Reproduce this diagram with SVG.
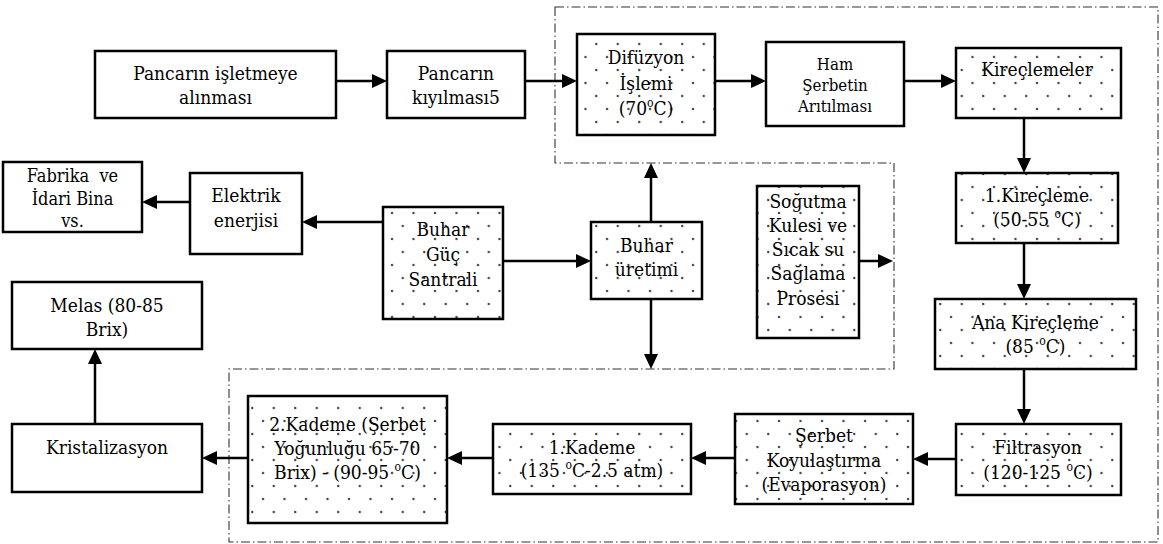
<svg xmlns="http://www.w3.org/2000/svg" width="1163" height="544" viewBox="0 0 1163 544">
  <style>
    .box { fill: #ffffff; stroke: #000000; stroke-width: 2.5; }
    .dot { fill: url(#dots); stroke: #000000; stroke-width: 2.5; }
    .lbl { font-family: "DejaVu Serif Condensed", "DejaVu Serif", serif; font-stretch: condensed; font-size: 19px; fill: #000000; text-anchor: middle; }
    .sm { font-size: 16.7px; }
    .fb { font-size: 18px; }
    .sup { font-size: 12px; }
    .edge { stroke: #000000; stroke-width: 2.5; fill: none; marker-end: url(#head); }
    .zone { fill: none; stroke: #333333; stroke-width: 1.1; stroke-dasharray: 9 3 1.5 3; }
  </style>
  <defs>
    <!-- stippled fill used by the process boxes -->
    <pattern id="dots" patternUnits="userSpaceOnUse" width="21.5" height="26">
      <rect width="21.5" height="26" fill="#ffffff"/>
      <circle cx="5" cy="5" r="1.2" fill="#444444"/>
      <circle cx="15.75" cy="18" r="1.2" fill="#444444"/>
    </pattern>
    <marker id="head" viewBox="0 0 15 14" refX="4" refY="7" markerWidth="15" markerHeight="14" markerUnits="userSpaceOnUse" orient="auto">
      <path d="M0,0 L15,7 L0,14 z" fill="#000000"/>
    </marker>
  </defs>

  <rect width="1163" height="544" fill="#ffffff"/>

  <!-- process zones (dash-dot outline) -->
  <g id="zones">
    <path class="zone" d="M555,7 H1158 V542 H229 V369 H894 V163 H555 Z"/>
  </g>

  <!-- connectors -->
  <g id="connectors">
    <line class="edge" x1="336" y1="81" x2="376" y2="81"/>
    <line class="edge" x1="525" y1="81" x2="566" y2="81"/>
    <line class="edge" x1="715" y1="81" x2="755" y2="81"/>
    <line class="edge" x1="904" y1="81" x2="945" y2="81"/>
    <line class="edge" x1="1024" y1="118" x2="1024" y2="162"/>
    <line class="edge" x1="1024" y1="243" x2="1024" y2="288"/>
    <line class="edge" x1="1024" y1="369" x2="1024" y2="413"/>
    <line class="edge" x1="956" y1="459" x2="924" y2="459"/>
    <line class="edge" x1="735" y1="458" x2="702" y2="458"/>
    <line class="edge" x1="493" y1="458" x2="458" y2="458"/>
    <line class="edge" x1="248" y1="458" x2="213" y2="458"/>
    <line class="edge" x1="95" y1="424" x2="95" y2="360"/>
    <line class="edge" x1="503" y1="261" x2="580" y2="261"/>
    <line class="edge" x1="651" y1="222" x2="651" y2="174"/>
    <line class="edge" x1="651" y1="299" x2="651" y2="358"/>
    <line class="edge" x1="859" y1="261" x2="882" y2="261"/>
    <line class="edge" x1="383" y1="222" x2="313" y2="222"/>
    <line class="edge" x1="190" y1="202" x2="153" y2="202"/>
  </g>

  <!-- top row -->
  <g id="n-isletme">
    <rect class="box" x="95" y="51" width="241" height="67"/>
    <text class="lbl" x="215.5" y="80">Pancarın işletmeye</text>
    <text class="lbl" x="215.5" y="104">alınması</text>
  </g>
  <g id="n-kiyilma">
    <rect class="box" x="387" y="51" width="138" height="67"/>
    <text class="lbl" x="456" y="80">Pancarın</text>
    <text class="lbl" x="456" y="104">kıyılması5</text>
  </g>
  <g id="n-difuzyon">
    <rect class="dot" x="577" y="34" width="138" height="101"/>
    <text class="lbl" x="646" y="64">Difüzyon</text>
    <text class="lbl" x="646" y="90">İşlemi</text>
    <text class="lbl" x="646" y="115">(70<tspan class="sup" dy="-8">o</tspan><tspan dy="8">C)</tspan></text>
  </g>
  <g id="n-ham">
    <rect class="box" x="766" y="42" width="138" height="84"/>
    <text class="lbl sm" x="835" y="70">Ham</text>
    <text class="lbl sm" x="835" y="91">Şerbetin</text>
    <text class="lbl sm" x="835" y="112">Arıtılması</text>
  </g>
  <g id="n-kireclemeler">
    <rect class="dot" x="956" y="48" width="165" height="70"/>
    <text class="lbl" x="1037" y="76">Kireçlemeler</text>
  </g>

  <!-- right column -->
  <g id="n-kirecleme1">
    <rect class="dot" x="956" y="173" width="162" height="70"/>
    <text class="lbl" x="1037" y="202">1.Kireçleme</text>
    <text class="lbl" x="1037" y="226">(50-55 <tspan class="sup" dy="-8">o</tspan><tspan dy="8">C)</tspan></text>
  </g>
  <g id="n-ana">
    <rect class="dot" x="935" y="299" width="201" height="70"/>
    <text class="lbl" x="1035.5" y="329">Ana Kireçleme</text>
    <text class="lbl" x="1035.5" y="353">(85 <tspan class="sup" dy="-8">o</tspan><tspan dy="8">C)</tspan></text>
  </g>
  <g id="n-filtrasyon">
    <rect class="dot" x="956" y="424" width="165" height="71"/>
    <text class="lbl" x="1038" y="454">Filtrasyon</text>
    <text class="lbl" x="1038" y="479">(120-125 <tspan class="sup" dy="-8">o</tspan><tspan dy="8">C)</tspan></text>
  </g>

  <!-- bottom row -->
  <g id="n-serbet">
    <rect class="dot" x="735" y="414" width="178" height="90"/>
    <text class="lbl" x="824" y="442">Şerbet</text>
    <text class="lbl" x="824" y="467">Koyulaştırma</text>
    <text class="lbl" x="824" y="491">(Evaporasyon)</text>
  </g>
  <g id="n-kademe1">
    <rect class="dot" x="493" y="424" width="198" height="70"/>
    <text class="lbl" x="592" y="454">1.Kademe</text>
    <text class="lbl" x="592" y="477">(135 <tspan class="sup" dy="-8">o</tspan><tspan dy="8">C-2.5 atm)</tspan></text>
  </g>
  <g id="n-kademe2">
    <rect class="dot" x="248" y="396" width="199" height="127"/>
    <text class="lbl" x="347.5" y="431">2.Kademe (Şerbet</text>
    <text class="lbl" x="347.5" y="455">Yoğunluğu 65-70</text>
    <text class="lbl" x="347.5" y="479">Brix) - (90-95 <tspan class="sup" dy="-8">o</tspan><tspan dy="8">C)</tspan></text>
  </g>
  <g id="n-kristal">
    <rect class="box" x="12" y="424" width="190" height="68"/>
    <text class="lbl" x="107" y="454">Kristalizasyon</text>
  </g>
  <g id="n-melas">
    <rect class="box" x="12" y="282" width="190" height="67"/>
    <text class="lbl" x="107" y="312">Melas (80-85</text>
    <text class="lbl" x="107" y="336">Brix)</text>
  </g>

  <!-- utilities -->
  <g id="n-fabrika">
    <rect class="box" x="3" y="162" width="139" height="70"/>
    <text class="lbl fb" x="72.5" y="182" xml:space="preserve">Fabrika  ve</text>
    <text class="lbl fb" x="72.5" y="205">İdari Bina</text>
    <text class="lbl fb" x="72.5" y="227">vs.</text>
  </g>
  <g id="n-elektrik">
    <rect class="box" x="190" y="173" width="112" height="81"/>
    <text class="lbl" x="246" y="202">Elektrik</text>
    <text class="lbl" x="246" y="227">enerjisi</text>
  </g>
  <g id="n-buharguc">
    <rect class="dot" x="383" y="207" width="120" height="112"/>
    <text class="lbl" x="443" y="236">Buhar</text>
    <text class="lbl" x="443" y="261">Güç</text>
    <text class="lbl" x="443" y="286">Santrali</text>
  </g>
  <g id="n-buharuretim">
    <rect class="dot" x="591" y="222" width="111" height="77"/>
    <text class="lbl" x="646.5" y="252">Buhar</text>
    <text class="lbl" x="646.5" y="276">üretimi</text>
  </g>
  <g id="n-sogutma">
    <rect class="dot" x="757" y="186" width="102" height="152"/>
    <text class="lbl" x="808" y="208">Soğutma</text>
    <text class="lbl" x="808" y="232">Kulesi ve</text>
    <text class="lbl" x="808" y="256">Sıcak su</text>
    <text class="lbl" x="808" y="280">Sağlama</text>
    <text class="lbl" x="808" y="305">Prosesi</text>
  </g>
</svg>
